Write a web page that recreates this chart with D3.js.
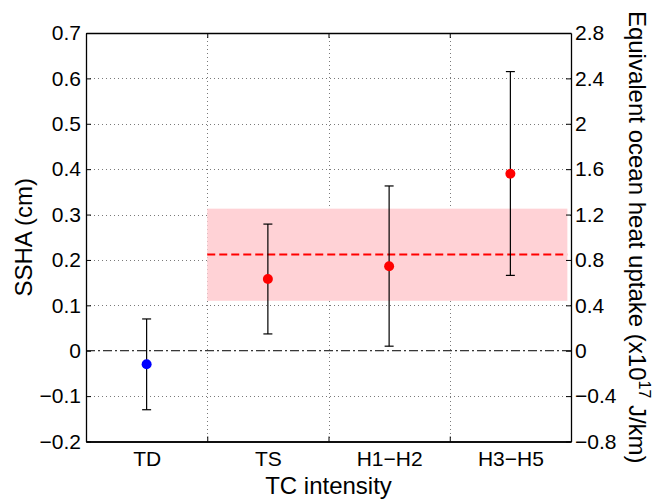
<!DOCTYPE html>
<html>
<head>
<meta charset="utf-8">
<script src="https://cdn.jsdelivr.net/npm/d3@7"></script>
<style>
  html, body { margin: 0; padding: 0; background: #fff; }
  svg { display: block; font-family: "Liberation Sans", Arial, Helvetica, sans-serif; }
</style>
</head>
<body>
<svg id="chart" width="660" height="502"></svg>
<script>
// TC intensity classes and mean SSHA with error bounds (cm)
const categories = ["TD", "TS", "H1\u2212H2", "H3\u2212H5"];
const sshaMean = [-0.03, 0.158, 0.186, 0.39];
const sshaLow = [-0.13, 0.037, 0.01, 0.166];
const sshaHigh = [0.07, 0.279, 0.363, 0.615];
const markerColors = ["#0000ff", "#ff0000", "#ff0000", "#ff0000"];

// Storm-class mean (TS and stronger) and its spread
const bandRange = [0.11, 0.313];
const bandMean = [0.212];
const bandSpan = [1.5, 4.47];

// Tick values
const leftTicks = [-0.2, -0.1, 0, 0.1, 0.2, 0.3, 0.4, 0.5, 0.6, 0.7];
const rightTicks = [-0.8, -0.4, 0, 0.4, 0.8, 1.2, 1.6, 2, 2.4, 2.8];
const gridX = [1.5, 2.5, 3.5];

const svg = d3.select("#chart");
const m = { left: 86, right: 571, top: 33, bottom: 441.5 };

const x = d3.scaleLinear().domain([0.5, 4.5]).range([m.left, m.right]);
const y = d3.scaleLinear().domain([-0.2, 0.7]).range([m.bottom, m.top]);
const y2 = d3.scaleLinear().domain([-0.8, 2.8]).range([m.bottom, m.top]);

const fmt = v => (v < 0 ? "\u2212" : "") + String(Math.abs(v));

// Dotted grid
const grid = svg.append("g").attr("stroke", "#7a7a7a").attr("stroke-width", 1)
  .attr("stroke-dasharray", "1,3").attr("fill", "none");
leftTicks.filter(v => v !== 0 && v !== -0.2 && v !== 0.7).forEach(v => {
  grid.append("line").attr("x1", m.left).attr("x2", m.right)
    .attr("y1", Math.round(y(v)) + 0.5).attr("y2", Math.round(y(v)) + 0.5);
});
gridX.forEach(v => {
  grid.append("line").attr("y1", m.top).attr("y2", m.bottom)
    .attr("x1", Math.round(x(v)) + 0.5).attr("x2", Math.round(x(v)) + 0.5);
});

// Shaded spread band
svg.append("rect")
  .attr("x", x(bandSpan[0])).attr("width", x(bandSpan[1]) - x(bandSpan[0]))
  .attr("y", y(bandRange[1])).attr("height", y(bandRange[0]) - y(bandRange[1]))
  .attr("fill", "#ffd2d6");

// Zero reference line (dash-dot)
svg.append("line")
  .attr("x1", m.left).attr("x2", m.right)
  .attr("y1", y(0)).attr("y2", y(0))
  .attr("stroke", "#000").attr("stroke-width", 1)
  .attr("stroke-dasharray", "9,3,2,3");

// Mean line
svg.selectAll("line.mean").data(bandMean).enter().append("line")
  .attr("class", "mean")
  .attr("x1", x(bandSpan[0])).attr("x2", x(bandSpan[1]))
  .attr("y1", d => y(d)).attr("y2", d => y(d))
  .attr("stroke", "#ff0000").attr("stroke-width", 2)
  .attr("stroke-dasharray", "8,4");

// Error bars
const eb = svg.append("g").attr("stroke", "#000").attr("stroke-width", 1.2);
categories.forEach((c, i) => {
  const cx = x(i + 1);
  eb.append("line").attr("x1", cx).attr("x2", cx).attr("y1", y(sshaLow[i])).attr("y2", y(sshaHigh[i]));
  eb.append("line").attr("x1", cx - 4.5).attr("x2", cx + 4.5).attr("y1", y(sshaLow[i])).attr("y2", y(sshaLow[i]));
  eb.append("line").attr("x1", cx - 4.5).attr("x2", cx + 4.5).attr("y1", y(sshaHigh[i])).attr("y2", y(sshaHigh[i]));
});

// Mean markers
svg.selectAll("circle.pt").data(sshaMean).enter().append("circle")
  .attr("class", "pt")
  .attr("cx", (d, i) => x(i + 1)).attr("cy", d => y(d)).attr("r", 5)
  .attr("fill", (d, i) => markerColors[i]);

// Axes
const tickSize = 5;
const gL = svg.append("g").attr("transform", `translate(${m.left},0)`)
  .call(d3.axisLeft(y).tickValues(leftTicks).tickFormat(fmt).tickSizeInner(-tickSize).tickSizeOuter(0).tickPadding(5));
const gR = svg.append("g").attr("transform", `translate(${m.right},0)`)
  .call(d3.axisRight(y2).tickValues(rightTicks).tickFormat(fmt).tickSizeInner(-tickSize).tickSizeOuter(0).tickPadding(4));
const gB = svg.append("g").attr("transform", `translate(0,${m.bottom})`)
  .call(d3.axisBottom(x).tickValues([1, 2, 3, 4]).tickFormat((d, i) => categories[i]).tickSize(0).tickPadding(10));
const gT = svg.append("g").attr("transform", `translate(0,${m.top})`)
  .call(d3.axisTop(x).tickValues(gridX).tickFormat("").tickSizeInner(-tickSize).tickSizeOuter(0));
const gB2 = svg.append("g").attr("transform", `translate(0,${m.bottom})`)
  .call(d3.axisBottom(x).tickValues(gridX).tickFormat("").tickSizeInner(-tickSize).tickSizeOuter(0));

[gL, gR, gB, gT, gB2].forEach(g => {
  g.selectAll(".domain").attr("stroke", "#000").attr("stroke-width", 1.3);
  g.selectAll(".tick line").attr("stroke", "#000").attr("stroke-width", 1);
  g.selectAll("text").attr("fill", "#000").style("font-size", "21px")
    .style("font-family", "'Liberation Sans', Arial, sans-serif");
});

// Axis titles
svg.append("text")
  .attr("transform", `translate(32,${(m.top + m.bottom) / 2}) rotate(-90)`)
  .attr("text-anchor", "middle")
  .style("font-size", "24px").text("SSHA (cm)");

svg.append("text")
  .attr("x", (m.left + m.right) / 2).attr("y", 494)
  .attr("text-anchor", "middle")
  .style("font-size", "24px").text("TC intensity");

const rt = svg.append("text")
  .attr("transform", `translate(629,${(m.top + m.bottom) / 2}) rotate(90)`)
  .attr("text-anchor", "middle")
  .style("font-size", "24px");
rt.append("tspan").text("Equivalent ocean heat uptake (x10");
rt.append("tspan").attr("dy", -10).style("font-size", "16px").text("17");
rt.append("tspan").attr("dy", 10).text(" J/km)");
</script>
</body>
</html>
